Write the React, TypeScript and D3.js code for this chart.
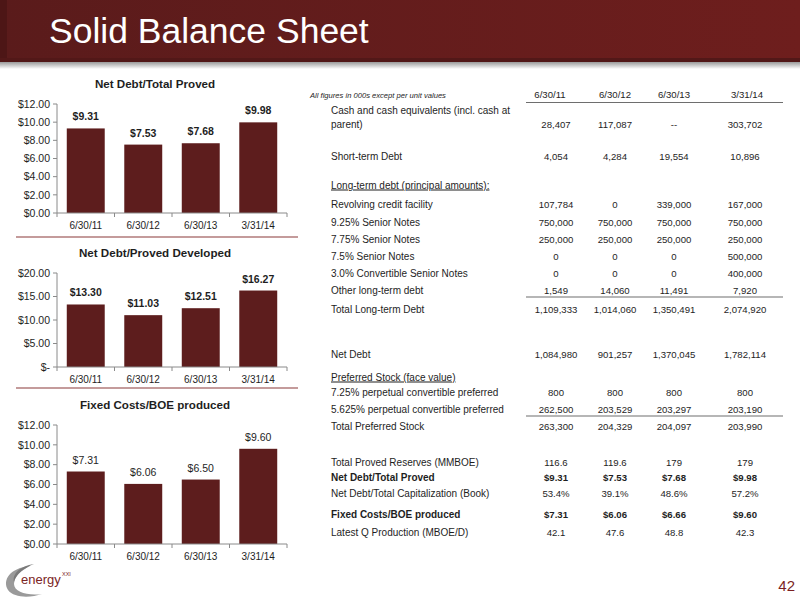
import React from "react";
import * as d3 from "d3";

const categories = ["6/30/11", "6/30/12", "6/30/13", "3/31/14"];
const netDebtTotalProved = [9.31, 7.53, 7.68, 9.98];
const netDebtProvedDeveloped = [13.3, 11.03, 12.51, 16.27];
const fixedCostsPerBoe = [7.31, 6.06, 6.5, 9.6];

const chart1Ticks = [0, 2, 4, 6, 8, 10, 12];
const chart2Ticks = [0, 5, 10, 15, 20];
const chart3Ticks = [0, 2, 4, 6, 8, 10, 12];

const tableNote = "All figures in 000s except per unit values";
const tableHeaders = ["6/30/11", "6/30/12", "6/30/13", "3/31/14"];

type Row = { label: string[]; values?: string[]; kind?: "section" | "bold" | "normal"; ruleAfter?: boolean };

const tableRows: Row[] = [
  { label: ["Cash and cash equivalents (incl. cash at", "parent)"], values: ["28,407", "117,087", "--", "303,702"] },
  { label: ["Short-term Debt"], values: ["4,054", "4,284", "19,554", "10,896"] },
  { label: ["Long-term debt (principal amounts):"], kind: "section" },
  { label: ["Revolving credit facility"], values: ["107,784", "0", "339,000", "167,000"] },
  { label: ["9.25% Senior Notes"], values: ["750,000", "750,000", "750,000", "750,000"] },
  { label: ["7.75% Senior Notes"], values: ["250,000", "250,000", "250,000", "250,000"] },
  { label: ["7.5% Senior Notes"], values: ["0", "0", "0", "500,000"] },
  { label: ["3.0% Convertible Senior Notes"], values: ["0", "0", "0", "400,000"] },
  { label: ["Other long-term debt"], values: ["1,549", "14,060", "11,491", "7,920"], ruleAfter: true },
  { label: ["Total Long-term Debt"], values: ["1,109,333", "1,014,060", "1,350,491", "2,074,920"] },
  { label: ["Net Debt"], values: ["1,084,980", "901,257", "1,370,045", "1,782,114"] },
  { label: ["Preferred Stock (face value)"], kind: "section" },
  { label: ["7.25% perpetual convertible preferred"], values: ["800", "800", "800", "800"] },
  { label: ["5.625% perpetual convertible preferred"], values: ["262,500", "203,529", "203,297", "203,190"], ruleAfter: true },
  { label: ["Total Preferred Stock"], values: ["263,300", "204,329", "204,097", "203,990"] },
  { label: ["Total Proved Reserves (MMBOE)"], values: ["116.6", "119.6", "179", "179"] },
  { label: ["Net Debt/Total Proved"], values: ["$9.31", "$7.53", "$7.68", "$9.98"], kind: "bold" },
  { label: ["Net Debt/Total Capitalization (Book)"], values: ["53.4%", "39.1%", "48.6%", "57.2%"] },
  { label: ["Fixed Costs/BOE produced"], values: ["$7.31", "$6.06", "$6.66", "$9.60"], kind: "bold" },
  { label: ["Latest Q Production (MBOE/D)"], values: ["42.1", "47.6", "48.8", "42.3"] },
];

// layout (row centre y positions)
const rowCenters = [110, 156, 185, 204, 222, 239, 256, 273, 290, 309, 354, 377, 392, 409, 426, 462, 477, 493, 514, 532];

const FONT = "'Liberation Sans', Arial, Helvetica, sans-serif";
const BAR = "#5d1d1d";
const TEXT = "#1e1e1e";
const AXIS = "#8a8a8a";

type ChartProps = {
  title: string;
  values: number[];
  ticks: number[];
  tickFmt: (v: number) => string;
  boldLabels: boolean;
  top: number;
  bottom: number;
  titleY: number;
};

function BarChart({ title, values, ticks, tickFmt, boldLabels, top, bottom, titleY }: ChartProps) {
  const x = d3.scaleBand<string>().domain(categories).range([57, 287]).paddingInner(0.34).paddingOuter(0.17);
  const y = d3.scaleLinear().domain([0, d3.max(ticks) as number]).range([bottom, top]);
  const step = x.step();
  const boundaries = d3.range(categories.length + 1).map((i) => 57 + i * step);
  const valFmt = d3.format("$.2f");
  return (
    <g fontFamily={FONT}>
      <text x={155} y={titleY} textAnchor="middle" fontSize={11.6} fontWeight="bold" fill={TEXT}>
        {title}
      </text>
      {values.map((v, i) => (
        <g key={i}>
          <rect x={x(categories[i])} y={y(v)} width={x.bandwidth()} height={y(0) - y(v)} fill={BAR} />
          <text
            x={(x(categories[i]) as number) + x.bandwidth() / 2}
            y={y(v) - 8}
            textAnchor="middle"
            fontSize={10.5}
            fontWeight={boldLabels ? "bold" : "normal"}
            fill={TEXT}
          >
            {valFmt(v)}
          </text>
        </g>
      ))}
      <line x1={57} x2={57} y1={y(d3.max(ticks) as number)} y2={y(0)} stroke={AXIS} strokeWidth={1} />
      {ticks.map((t) => (
        <g key={t}>
          <line x1={53} x2={57} y1={y(t)} y2={y(t)} stroke={AXIS} />
          <text x={50} y={y(t) + 3.7} textAnchor="end" fontSize={10.5} fill={TEXT}>
            {tickFmt(t)}
          </text>
        </g>
      ))}
      <line x1={57} x2={287} y1={y(0)} y2={y(0)} stroke={AXIS} />
      {boundaries.map((b, i) => (
        <line key={i} x1={b} x2={b} y1={y(0)} y2={y(0) + 4} stroke={AXIS} />
      ))}
      {categories.map((c) => (
        <text key={c} x={(x(c) as number) + x.bandwidth() / 2} y={y(0) + 16} textAnchor="middle" fontSize={10} fill={TEXT}>
          {c}
        </text>
      ))}
    </g>
  );
}

const fmt2 = d3.format("$.2f");
const fmtDash = (v: number) => (v === 0 ? "$-" : d3.format("$.2f")(v));

function Table() {
  const colCenters = [556, 615, 674, 745];
  const headCenters = [550, 615, 674, 747];
  return (
    <g fontFamily={FONT} fill={TEXT}>
      <text x={310} y={98} fontSize={7.6} fontStyle="italic">
        {tableNote}
      </text>
      {tableHeaders.map((h, i) => (
        <text key={h} x={headCenters[i]} y={98} fontSize={9.6} textAnchor="middle">
          {h}
        </text>
      ))}
      <line x1={526} x2={783} y1={102.5} y2={102.5} stroke="#6e6e6e" strokeWidth={1.2} />
      {tableRows.map((r, i) => {
        const cy = rowCenters[i];
        const twoLine = r.label.length > 1;
        const valueY = twoLine ? cy + 14 + 3.5 : cy + 3.5;
        const bold = r.kind === "bold" ? "bold" : "normal";
        return (
          <g key={i}>
            {r.label.map((l, j) => (
              <text
                key={j}
                x={331}
                y={cy + 3.5 + j * 14}
                fontSize={10}
                fontWeight={bold}
                textDecoration={r.kind === "section" ? "underline" : undefined}
              >
                {l}
              </text>
            ))}
            {r.values &&
              r.values.map((v, k) => (
                <text key={k} x={colCenters[k]} y={valueY} fontSize={9.6} textAnchor="middle" fontWeight={bold}>
                  {v}
                </text>
              ))}
            {r.ruleAfter && <line x1={526} x2={783} y1={cy + 7} y2={cy + 7} stroke="#6e6e6e" strokeWidth={1.2} />}
          </g>
        );
      })}
    </g>
  );
}

function Logo() {
  return (
    <g>
      <path d="M30,566 C10,568 2,580 8,590 C14,598 30,598 42,594 C28,596 14,592 14,584 C14,576 22,570 30,566 Z" fill="#9a9a9a" />
      <path d="M34,564 C20,566 12,574 14,582 C16,574 24,568 34,564 Z" fill="#7a7a7a" />
      <text x={21} y={584} fontFamily={FONT} fontSize={13} fill="#7b2525">
        energy
      </text>
      <text x={62} y={576} fontFamily={FONT} fontSize={5.5} fill="#7b2525">
        XXI
      </text>
    </g>
  );
}

export default function App() {
  return (
    <svg width={800} height={600} style={{ position: "absolute", left: 0, top: 0, background: "#fff" }}>
      <defs>
        <linearGradient id="hdr" x1="0" x2="1" y1="0" y2="0">
          <stop offset="0" stopColor="#5a1b1b" />
          <stop offset="1" stopColor="#6e1e1d" />
        </linearGradient>
        <linearGradient id="shd" x1="0" x2="0" y1="0" y2="1">
          <stop offset="0" stopColor="#8c8c8c" />
          <stop offset="1" stopColor="#ffffff" />
        </linearGradient>
      </defs>
      <rect x={0} y={0} width={800} height={600} fill="#ffffff" />
      <rect x={0} y={61} width={800} height={8} fill="url(#shd)" />
      <rect x={0} y={0} width={800} height={62} fill="url(#hdr)" />
      <rect x={0} y={0} width={7} height={62} fill="#4d1616" />
      <rect x={0} y={58} width={800} height={4} fill="#521818" />
      <text x={49} y={43} fontFamily={FONT} fontSize={35.5} fill="#ffffff">
        Solid Balance Sheet
      </text>

      <BarChart title="Net Debt/Total Proved" values={netDebtTotalProved} ticks={chart1Ticks} tickFmt={fmt2} boldLabels top={104} bottom={213} titleY={88} />
      <line x1={16} x2={298} y1={237} y2={237} stroke="#b07a7a" strokeWidth={1.5} />
      <BarChart title="Net Debt/Proved Developed" values={netDebtProvedDeveloped} ticks={chart2Ticks} tickFmt={fmtDash} boldLabels top={273} bottom={367} titleY={257} />
      <line x1={16} x2={298} y1={388} y2={388} stroke="#b07a7a" strokeWidth={1.5} />
      <BarChart title="Fixed Costs/BOE produced" values={fixedCostsPerBoe} ticks={chart3Ticks} tickFmt={fmt2} boldLabels={false} top={425} bottom={544} titleY={409} />

      <Table />
      <Logo />
      <text x={795} y={591} textAnchor="end" fontFamily={FONT} fontSize={15} fill="#7b1f1f">
        42
      </text>
    </svg>
  );
}
